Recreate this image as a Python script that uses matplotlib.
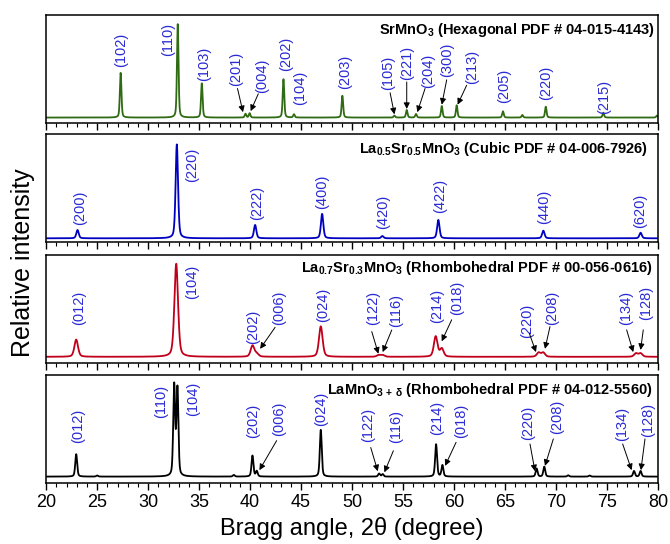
import numpy as np
import matplotlib
matplotlib.use('Agg')
import matplotlib.pyplot as plt
from matplotlib.ticker import MultipleLocator

plt.rcParams['font.family'] = ['Liberation Sans', 'DejaVu Sans']
plt.rcParams['mathtext.fontset'] = 'custom'
plt.rcParams['mathtext.rm'] = 'Liberation Sans:bold'
plt.rcParams['mathtext.it'] = 'Liberation Sans:bold'
plt.rcParams['mathtext.default'] = 'rm'

# ---- peak data (2theta, peak top as fraction of panel) ----
# SrMnO3 hexagonal
base1 = 0.05
pos1 = [27.3, 32.9, 35.26, 39.55, 39.95, 43.27, 44.3, 49.05, 54.15, 55.36, 56.27,
        58.8, 60.26, 64.8, 66.7, 69.0, 74.64, 79.9]
top1 = [0.466, 0.917, 0.368, 0.085, 0.09, 0.407, 0.08, 0.253, 0.068, 0.12, 0.083,
        0.157, 0.164, 0.108, 0.074, 0.151, 0.095, 0.068]
hw1 = 0.09

# La0.5Sr0.5MnO3 cubic
base2 = 0.035
pos2 = [23.07, 32.81, 40.49, 47.06, 52.97, 58.46, 68.76, 78.3]
top2 = [0.112, 0.907, 0.159, 0.262, 0.056, 0.206, 0.106, 0.087]
hw2 = 0.14

# La0.7Sr0.3MnO3 rhombohedral
base3 = 0.056
pos3 = [22.94, 32.75, 40.23, 40.65, 46.93, 52.6, 53.0, 58.2, 58.8, 68.3, 68.75, 77.85, 78.3]
top3 = [0.216, 0.92, 0.16, 0.085, 0.339, 0.072, 0.072, 0.245, 0.13, 0.095, 0.095, 0.088, 0.088]
hw3 = 0.21

# LaMnO3+d rhombohedral
base4 = 0.06
pos4 = [22.94, 25.0, 32.55, 32.87, 38.4, 40.23, 40.65, 46.93, 52.65, 53.0, 58.24,
        58.86, 68.1, 68.85, 71.2, 73.3, 77.65, 78.3]
top4 = [0.268, 0.07, 0.9, 0.87, 0.075, 0.255, 0.11, 0.495, 0.088, 0.083, 0.36,
        0.165, 0.135, 0.152, 0.072, 0.07, 0.112, 0.112]
hw4 = 0.11

titles = [r'SrMnO$_3$ (Hexagonal PDF # 04-015-4143)',
          r'La$_{0.5}$Sr$_{0.5}$MnO$_3$ (Cubic PDF # 04-006-7926)',
          r'La$_{0.7}$Sr$_{0.3}$MnO$_3$ (Rhombohedral PDF # 00-056-0616)',
          r'LaMnO$_{3\,+\,\delta}$ (Rhombohedral PDF # 04-012-5560)']

# hkl labels: text, label x, label y, arrow (tail x, tail y, tip x, tip y) or None
labels1 = [('(102)', 27.3, 0.68, None), ('(110)', 31.93, 0.773, None),
           ('(103)', 35.5, 0.553, None),
           ('(201)', 38.63, 0.5, (38.76, 0.32, 39.3, 0.1)),
           ('(004)', 41.15, 0.437, (40.8, 0.27, 40.05, 0.11)),
           ('(202)', 43.5, 0.645, None), ('(104)', 44.9, 0.324, None),
           ('(203)', 49.3, 0.475, None),
           ('(105)', 53.56, 0.468, (53.73, 0.28, 54.15, 0.08)),
           ('(221)', 55.36, 0.56, (55.36, 0.38, 55.36, 0.13)),
           ('(204)', 57.42, 0.483, (57.16, 0.32, 56.4, 0.1)),
           ('(300)', 59.35, 0.59, (59.28, 0.4, 58.8, 0.17)),
           ('(213)', 61.73, 0.52, (61.24, 0.35, 60.35, 0.17)),
           ('(205)', 64.9, 0.344, None), ('(220)', 69.0, 0.375, None),
           ('(215)', 74.7, 0.244, None)]
labels2 = [('(200)', 23.33, 0.322, None), ('(220)', 34.28, 0.72, None),
           ('(222)', 40.65, 0.36, None), ('(400)', 47.03, 0.463, None),
           ('(420)', 53.07, 0.276, None), ('(422)', 58.63, 0.432, None),
           ('(440)', 68.82, 0.33, None), ('(620)', 78.3, 0.29, None)]
labels3 = [('(012)', 23.24, 0.51, None), ('(104)', 34.34, 0.753, None),
           ('(202)', 40.33, 0.336, None),
           ('(006)', 42.87, 0.512, (42.45, 0.33, 40.98, 0.13)),
           ('(024)', 47.13, 0.537, None),
           ('(122)', 52.09, 0.512, (51.93, 0.29, 52.58, 0.085)),
           ('(116)', 54.31, 0.49, (53.89, 0.305, 53.0, 0.1)),
           ('(214)', 58.3, 0.53, None),
           ('(018)', 60.33, 0.6, (59.77, 0.4, 58.79, 0.2)),
           ('(220)', 67.12, 0.39, (67.38, 0.275, 68.04, 0.1)),
           ('(208)', 69.67, 0.514, (69.41, 0.336, 68.92, 0.13)),
           ('(134)', 76.86, 0.506, (76.93, 0.306, 77.58, 0.1)),
           ('(128)', 78.82, 0.56, (78.56, 0.306, 78.3, 0.12))]
labels4 = [('(012)', 23.17, 0.527, None), ('(110)', 31.24, 0.76, None),
           ('(104)', 34.38, 0.78, None), ('(202)', 40.33, 0.58, None),
           ('(006)', 42.87, 0.596, (42.6, 0.394, 40.91, 0.12)),
           ('(024)', 46.93, 0.69, None),
           ('(122)', 51.6, 0.543, (51.83, 0.33, 52.52, 0.11)),
           ('(116)', 54.31, 0.527, (54.05, 0.3, 53.17, 0.1)),
           ('(214)', 58.36, 0.604, None),
           ('(018)', 60.65, 0.573, (60.2, 0.378, 59.12, 0.16)),
           ('(220)', 67.29, 0.557, (67.45, 0.363, 67.94, 0.11)),
           ('(208)', 70.07, 0.61, (69.74, 0.41, 68.92, 0.16)),
           ('(134)', 76.44, 0.55, (76.54, 0.363, 77.42, 0.12)),
           ('(128)', 79.05, 0.59, (78.73, 0.41, 78.33, 0.12))]

panels = [(base1, pos1, top1, hw1, '#2f6b12', labels1, titles[0], 0.995, 0.86),
          (base2, pos2, top2, hw2, '#0000c0', labels2, titles[1], 0.984, 0.86),
          (base3, pos3, top3, hw3, '#c0001a', labels3, titles[2], 0.992, 0.877),
          (base4, pos4, top4, hw4, '#000000', labels4, titles[3], 0.991, 0.86)]

x = np.linspace(20, 80, 4001)


def pattern(base, pos, top, hw):
    y = np.full_like(x, base)
    for p, t in zip(pos, top):
        d = (x - p) / hw
        # pseudo-Voigt shape
        y += (t - base) * (0.6 * np.exp(-np.log(2) * d**2) + 0.4 / (1 + d**2))
    return y


fig = plt.figure(figsize=(6.7, 5.44), dpi=100)
bottoms = [0.774, 0.555, 0.333, 0.112]
axes = []
for i, (base, pos, top, hw, col, labs, title, tx, ty) in enumerate(panels):
    ax = fig.add_axes([0.069, bottoms[i], 0.913, 0.198])
    axes.append(ax)
    ax.plot(x, pattern(base, pos, top, hw), color=col, lw=1.3)
    ax.set_xlim(20, 80)
    ax.set_ylim(0, 1)
    ax.set_yticks([])
    ax.xaxis.set_major_locator(MultipleLocator(5))
    ax.xaxis.set_minor_locator(MultipleLocator(1))
    ax.tick_params(axis='x', which='major', direction='out', length=5, width=1, pad=3,
                   labelsize=13)
    ax.tick_params(axis='x', which='minor', direction='out', length=3, width=0.8)
    for s in ax.spines.values():
        s.set_linewidth(1.1)
    if i < 3:
        ax.tick_params(axis='x', labelbottom=False)
    ax.text(tx, ty, title, transform=ax.transAxes, ha='right', va='center',
            fontsize=10.5, fontweight='bold')
    for txt, lx, ly, arr in labs:
        ax.text(lx, ly, txt, rotation=90, ha='center', va='center',
                fontsize=10.5, color='#2a2ad6')
        if arr is not None:
            ax.annotate('', xy=(arr[2], arr[3]), xytext=(arr[0], arr[1]),
                        arrowprops=dict(arrowstyle='-|>', color='k', lw=0.7,
                                        mutation_scale=9, shrinkA=0, shrinkB=0))

axes[-1].set_xlabel('Bragg angle, 2\u03b8 (degree)', fontsize=17, labelpad=4)
fig.text(0.034, 0.518, 'Relative intensity', rotation=90, ha='center', va='center',
         fontsize=18)

fig.savefig('out.png', dpi=100)
